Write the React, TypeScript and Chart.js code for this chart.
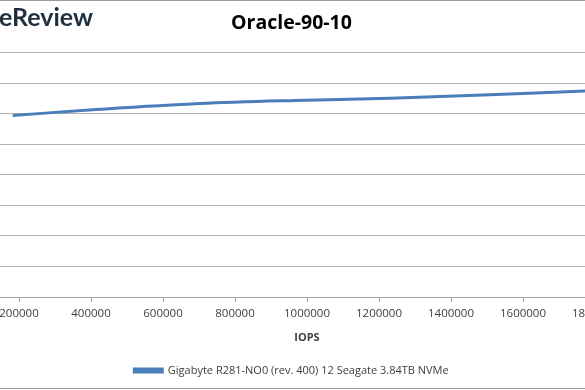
import React, { useEffect, useRef } from "react";
import { Chart, registerables } from "chart.js";

Chart.register(...registerables);

// Data
const seriesLabel = "Gigabyte R281-NO0 (rev. 400) 12 Seagate 3.84TB NVMe";
const iops = [182500, 424000, 702000, 966000, 1230000, 1508000, 1772000, 1850000];
const latency = [0.595, 0.615, 0.634, 0.644, 0.651, 0.663, 0.675, 0.678];
const xMin = 0;
const xMax = 2000000;
const xStep = 200000;
const yMin = 0;
const yMax = 0.8;
const yStep = 0.1;
const chartTitle = "Oracle-90-10";
const xTitle = "IOPS";
const watermark = "eReview";

const FONT = "'Open Sans', 'Liberation Sans', sans-serif";
const CANVAS_W = 809;
const CANVAS_H = 387;
const OFFSET_LEFT = -113;

export default function App() {
  const ref = useRef<HTMLCanvasElement | null>(null);

  useEffect(() => {
    if (!ref.current) return;
    const chart = new Chart(ref.current, {
      type: "line",
      data: {
        datasets: [
          {
            label: seriesLabel,
            data: iops.map((x, i) => ({ x, y: latency[i] })),
            borderColor: "#4a7ebb",
            backgroundColor: "#4a7ebb",
            borderWidth: 3,
            pointRadius: 0,
            cubicInterpolationMode: "monotone",
            fill: false,
            yAxisID: "y",
          },
        ],
      },
      options: {
        animation: false,
        responsive: false,
        devicePixelRatio: 1,
        layout: { padding: { left: 0, right: 0, top: 0, bottom: 2 } },
        plugins: {
          title: {
            display: true,
            text: chartTitle,
            color: "#000000",
            font: { family: FONT, size: 19.5, weight: "bold" },
            padding: { top: 11, bottom: 17.5 },
          },
          legend: {
            position: "bottom",
            labels: {
              boxWidth: 28,
              boxHeight: 3,
              color: "#404040",
              font: { family: FONT, size: 11 },
              padding: 10,
            },
          },
          tooltip: { enabled: false },
        },
        scales: {
          x: {
            type: "linear",
            min: xMin,
            max: xMax,
            ticks: {
              stepSize: xStep,
              autoSkip: false,
              maxRotation: 0,
              padding: 5,
              color: "#404040",
              font: { family: FONT, size: 11.5 },
              callback: (v: any) => String(v),
            },
            grid: {
              display: true,
              drawOnChartArea: false,
              drawTicks: true,
              tickLength: 5,
              color: "#a6a6a6",
            },
            border: { color: "#a6a6a6" },
            title: {
              display: true,
              text: xTitle,
              color: "#404040",
              font: { family: FONT, size: 11, weight: "bold" },
              padding: { top: 5, bottom: 11 },
            },
          },
          y: {
            position: "left",
            min: yMin,
            max: yMax,
            ticks: { stepSize: yStep, display: false },
            grid: { color: "#b0b0b0", drawTicks: false },
            border: { display: false },
            afterFit: (s: any) => {
              s.width = 60;
            },
          },
          yRight: {
            position: "right",
            display: true,
            min: yMin,
            max: yMax,
            ticks: { display: false },
            grid: { display: false, drawTicks: false },
            border: { display: false },
            afterFit: (s: any) => {
              s.width = 29;
            },
          },
        },
      },
    });
    return () => chart.destroy();
  }, []);

  return (
    <div
      style={{
        position: "fixed",
        top: 0,
        left: 0,
        width: 585,
        height: 390,
        overflow: "hidden",
        background: "#ffffff",
      }}
    >
      <div
        style={{
          position: "absolute",
          left: OFFSET_LEFT,
          top: 0,
          width: CANVAS_W,
          height: CANVAS_H,
          borderTop: "1px solid #9a9a9a",
          borderBottom: "1px solid #9a9a9a",
        }}
      >
        <canvas ref={ref} width={CANVAS_W} height={CANVAS_H} style={{ display: "block" }} />
      </div>
      <div
        style={{
          position: "absolute",
          left: -1,
          top: 2,
          fontFamily: "Lato, 'Open Sans', sans-serif",
          fontSize: 25,
          fontWeight: 700,
          color: "#1f2f3d",
          lineHeight: "28px",
          whiteSpace: "nowrap",
        }}
      >
        {watermark}
      </div>
    </div>
  );
}
